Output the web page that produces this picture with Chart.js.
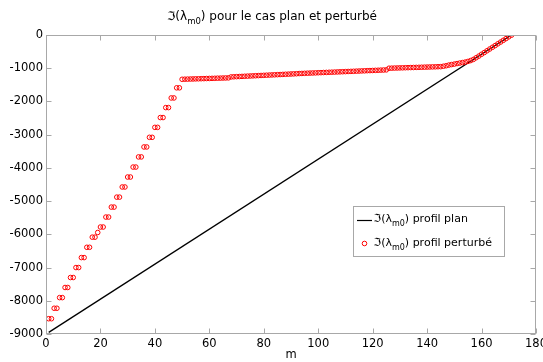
<!DOCTYPE html>
<html><head><meta charset="utf-8">
<script src="https://cdn.jsdelivr.net/npm/chart.js@4.4.0/dist/chart.umd.min.js"></script>
<style>html,body{margin:0;padding:0;background:#fff;}#wrap{width:543px;height:362px;}</style>
</head><body><div id="wrap"><canvas id="c" width="543" height="362"></canvas></div>
<script>
// ---- data ----
const xTicks = [0,20,40,60,80,100,120,140,160,180];
const yTicks = [0,-1000,-2000,-3000,-4000,-5000,-6000,-7000,-8000,-9000];
const planM = [1, 171];
const planVals = [-8950, 0];
const pertM = [];
for (let m = 1; m <= 171; m++) pertM.push(m);
const pertVals = [
 -8540,-8540,-8225,-8225,-7905,-7905,-7600,-7600,-7300,-7300,
 -7000,-7000,-6700,-6700,-6390,-6390,-6085,-6085,-5945,-5780,
 -5780,-5480,-5480,-5180,-5180,-4880,-4880,-4575,-4575,-4275,
 -4275,-3975,-3975,-3670,-3670,-3370,-3370,-3080,-3080,-2780,
 -2780,-2485,-2485,-2185,-2185,-1895,-1895,-1590,-1590,
 -1333,-1330,-1328,-1325,-1323,-1320,-1318,-1315,-1313,-1310,
 -1308,-1305,-1303,-1300,-1298,-1295,-1293,-1290,
 -1262,-1258,-1254,-1250,-1246,-1242,-1238,-1234,-1230,-1226,
 -1222,-1218,-1214,-1210,-1206,-1202,-1198,-1194,-1190,-1186,
 -1182,-1178,-1174,-1170,-1166,
 -1160,-1157,-1153,-1150,-1146,-1143,-1140,-1136,-1133,-1129,
 -1126,-1122,-1119,-1116,-1112,-1109,-1105,-1102,-1098,-1095,
 -1092,-1088,-1085,-1081,-1078,-1074,-1071,-1068,-1064,-1061,
 -1057,-1054,-1050,
 -1000,-998,-995,-993,-990,-988,-985,-983,-980,-978,
 -975,-973,-970,-968,-965,-963,-960,-958,-955,-953,
 -940,-925,-905,-890,-875,-860,-845,-830,-815,-795,
 -770,-735,-685,-635,-580,-528,-475,-422,-370,-318,
 -265,-212,-160,-108,-55,-5
];
const titleParts = [['ℑ(λ',0],['m0',1],[') pour le cas plan et perturbé',0]];
const legendRows = [
  [['ℑ(λ',0],['m0',1],[') profil plan',0]],
  [['ℑ(λ',0],['m0',1],[') profil perturbé',0]]
];
const xLabel = 'm';

// ---- helpers ----
const FONT = '"DejaVu Sans", sans-serif';
function richWidth(ctx, parts, size, sub){
  let w=0;
  for(const [t,s] of parts){ctx.font=(s?sub:size)+'px '+FONT; w+=ctx.measureText(t).width;}
  return w;
}
function drawRich(ctx, x, y, parts, size, sub){
  ctx.textBaseline='alphabetic'; ctx.textAlign='left'; ctx.fillStyle='#000';
  for(const [t,s] of parts){
    ctx.font=(s?sub:size)+'px '+FONT;
    ctx.fillText(t, x, y + (s?3.5:0));
    x += ctx.measureText(t).width;
  }
}

const decor = {
  id:'decor',
  afterDraw(chart){
    const ctx=chart.ctx, a=chart.chartArea, xs=chart.scales.x, ys=chart.scales.y;
    ctx.save();
    ctx.strokeStyle='#a8a8a8'; ctx.lineWidth=1;
    const L=Math.round(a.left)+0.5, R=Math.round(a.right)-0.5, T=Math.round(a.top)+0.5, B=Math.round(a.bottom)-0.5;
    ctx.strokeRect(L,T,R-L,B-T);
    ctx.beginPath();
    for(const v of xTicks){
      const px=Math.round(xs.getPixelForValue(v))+0.5;
      ctx.moveTo(px,B); ctx.lineTo(px,B-5);
      ctx.moveTo(px,T); ctx.lineTo(px,T+5);
    }
    for(const v of yTicks){
      const py=Math.round(ys.getPixelForValue(v))+0.5;
      ctx.moveTo(L,py); ctx.lineTo(L+5,py);
      ctx.moveTo(R,py); ctx.lineTo(R-5,py);
    }
    ctx.stroke();
    const tw=richWidth(ctx,titleParts,12,8.5);
    drawRich(ctx, 272 - tw/2, 20, titleParts, 12, 8.5);
    ctx.fillStyle='#fff'; ctx.fillRect(353.5,206.5,151,50);
    ctx.strokeStyle='#a8a8a8'; ctx.strokeRect(353.5,206.5,151,50);
    ctx.strokeStyle='#000'; ctx.lineWidth=1.2;
    ctx.beginPath(); ctx.moveTo(357,220.5); ctx.lineTo(372,220.5); ctx.stroke();
    ctx.lineWidth=1;
    ctx.strokeStyle='#ff0000'; ctx.beginPath(); ctx.arc(364.5,243.5,2.3,0,Math.PI*2); ctx.stroke();
    drawRich(ctx, 373.5, 222, legendRows[0], 11, 8);
    drawRich(ctx, 373.5, 246, legendRows[1], 11, 8);
    ctx.restore();
  }
};

new Chart(document.getElementById('c'), {
  type:'scatter',
  data:{datasets:[
    {label:'plan', data:planM.map((m,i)=>({x:m,y:planVals[i]})), showLine:true, borderColor:'#000', borderWidth:1.3, pointRadius:0, order:2},
    {label:'pert', data:pertM.map((m,i)=>({x:m,y:pertVals[i]})), showLine:false, borderColor:'#ff0000', backgroundColor:'rgba(0,0,0,0)', borderWidth:1, pointRadius:2.3, pointStyle:'circle', order:1}
  ]},
  options:{
    responsive:false, animation:false, devicePixelRatio:1,
    layout:{padding:{top:35,right:7,left:0,bottom:0}},
    plugins:{legend:{display:false}, tooltip:{enabled:false}, title:{display:false}},
    scales:{
      x:{type:'linear', min:0, max:180,
        afterBuildTicks(s){s.ticks=xTicks.map(v=>({value:v}));},
        ticks:{font:{family:FONT,size:11.5}, color:'#000', padding:3, maxRotation:0, autoSkip:false, callback:v=>String(v)},
        grid:{display:false, drawTicks:false}, border:{display:false},
        title:{display:true, text:xLabel, font:{family:FONT,size:11.5}, color:'#000', padding:{top:0,bottom:0}},
        afterFit(s){s.height=28; s.paddingLeft=0; s.paddingRight=0;}
      },
      y:{type:'linear', min:-9000, max:0,
        afterBuildTicks(s){s.ticks=yTicks.map(v=>({value:v}));},
        ticks:{font:{family:FONT,size:11.5}, color:'#000', padding:3, autoSkip:false, callback:v=>String(v)},
        grid:{display:false, drawTicks:false}, border:{display:false},
        afterFit(s){s.width=46; s.paddingTop=0; s.paddingBottom=0;}
      }
    }
  },
  plugins:[decor]
});
</script></body></html>
